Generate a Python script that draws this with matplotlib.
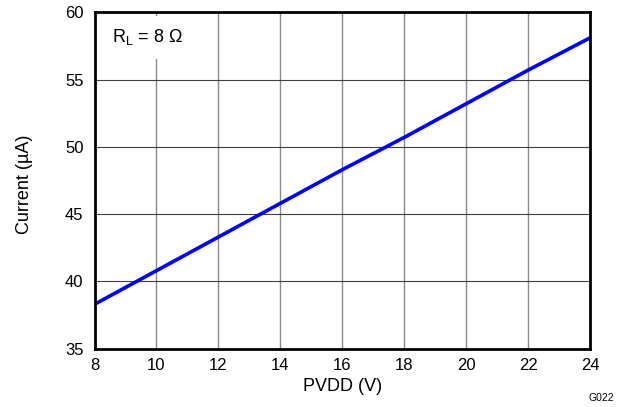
import matplotlib
matplotlib.use("Agg")
import matplotlib.pyplot as plt

plt.rcParams['font.family'] = ['Liberation Sans', 'DejaVu Sans']
plt.rcParams['mathtext.fontset'] = 'custom'
plt.rcParams['mathtext.rm'] = 'Liberation Sans'
plt.rcParams['mathtext.it'] = 'Liberation Sans:italic'

pvdd = [8, 10, 12, 14, 16, 18, 20, 22, 24]
current = [38.3, 40.8, 43.3, 45.8, 48.3, 50.7, 53.2, 55.7, 58.1]
xticks = [8, 10, 12, 14, 16, 18, 20, 22, 24]
yticks = [35, 40, 45, 50, 55, 60]

fig = plt.figure(figsize=(6.23, 4.07), dpi=100)
ax = fig.add_axes([0.1517, 0.1432, 0.947 - 0.1517, 0.9698 - 0.1432])
ax.plot(pvdd, current, color='#0000ff', lw=2.6, solid_capstyle='butt', zorder=3)
ax.set_xlim(8, 24)
ax.set_ylim(35, 60)
ax.set_xticks(xticks)
ax.set_yticks(yticks)
ax.xaxis.grid(True, color='#8a8a8a', lw=1.0)
ax.yaxis.grid(True, color='#404040', lw=0.8)
ax.set_axisbelow(True)
for s in ax.spines.values():
    s.set_linewidth(2.0)
    s.set_zorder(5)
ax.tick_params(length=0, labelsize=12)
ax.tick_params(axis='x', pad=7)
ax.tick_params(axis='y', pad=8)
ax.set_xlabel('PVDD (V)', fontsize=13)
ax.set_ylabel('Current (µA)', fontsize=13)
ax.xaxis.set_label_coords(0.5, -0.088)
ax.yaxis.set_label_coords(-0.124, 0.49)
ax.text(0.035, 0.955, 'R$_\\mathrm{L}$ = 8 Ω', transform=ax.transAxes, fontsize=13,
        va='top', ha='left', zorder=4,
        bbox=dict(facecolor='white', edgecolor='none', pad=8))
fig.text(0.986, 0.022, 'G022', fontsize=7.5, ha='right', va='center')
fig.savefig('out.png', dpi=100)
